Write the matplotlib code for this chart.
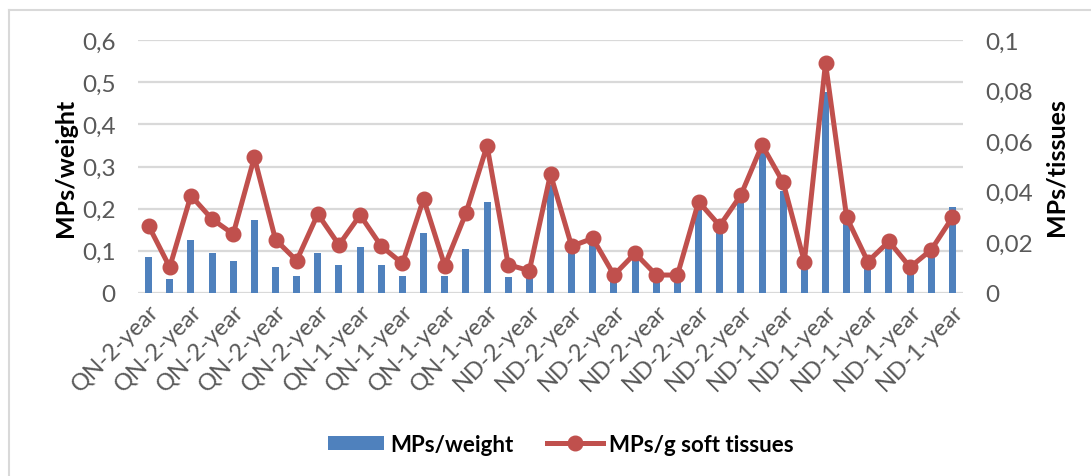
import matplotlib
matplotlib.use("Agg")
import matplotlib.pyplot as plt
from matplotlib.lines import Line2D
from matplotlib.patches import Patch

categories = (["QN-2-year"] * 10 + ["QN-1-year"] * 8 +
              ["ND-2-year"] * 12 + ["ND-1-year"] * 9)

mps_weight = [0.086, 0.033, 0.126, 0.095, 0.077, 0.173, 0.061, 0.040, 0.095, 0.067,
              0.108, 0.067, 0.040, 0.142, 0.040, 0.104, 0.216, 0.037, 0.050, 0.255,
              0.108, 0.118, 0.033, 0.080, 0.033, 0.033, 0.199, 0.154, 0.219, 0.341,
              0.242, 0.057, 0.476, 0.168, 0.080, 0.120, 0.057, 0.097, 0.204]

mps_tissue = [0.0266, 0.0102, 0.0385, 0.0292, 0.0233, 0.0536, 0.0211, 0.0128, 0.0312, 0.0190,
              0.0308, 0.0185, 0.0117, 0.0372, 0.0108, 0.0315, 0.0582, 0.0112, 0.0088, 0.0470,
              0.0185, 0.0216, 0.0071, 0.0157, 0.0071, 0.0071, 0.0361, 0.0266, 0.0387, 0.0585,
              0.0437, 0.0124, 0.0909, 0.0299, 0.0124, 0.0204, 0.0102, 0.0171, 0.0299]

left_ticks = [0, 0.1, 0.2, 0.3, 0.4, 0.5, 0.6]
left_labels = ["0", "0,1", "0,2", "0,3", "0,4", "0,5", "0,6"]
right_ticks = [0, 0.02, 0.04, 0.06, 0.08, 0.1]
right_labels = ["0", "0,02", "0,04", "0,06", "0,08", "0,1"]

BLUE = "#4F81BD"
RED = "#C0504D"
GRID = "#D9D9D9"
TXT = "#595959"
FONT = "Lato"

plt.rcParams["font.family"] = [FONT, "DejaVu Sans"]

fig = plt.figure(figsize=(10.91, 4.77), dpi=100)
ax = fig.add_axes([138 / 1091, 1 - 294 / 477, (963 - 138) / 1091, (294 - 41) / 477])
ax2 = ax.twinx()

x = list(range(len(categories)))
ax.bar(x, mps_weight, width=0.33, color=BLUE, zorder=2)
ax2.plot(x, mps_tissue, color=RED, lw=3.6, marker="o", markersize=10.5, zorder=3)

ax.set_xlim(-0.5, len(categories) - 0.5)
ax.set_ylim(0, 0.6)
ax2.set_ylim(0, 0.1)
ax.set_yticks(left_ticks)
ax.set_yticklabels(left_labels)
ax2.set_yticks(right_ticks)
ax2.set_yticklabels(right_labels)
ax.set_xticks(x[::2])
ax.set_xticklabels(categories[::2], rotation=45, ha="right", va="top",
                   rotation_mode="anchor")

ax.grid(axis="y", color=GRID, lw=1.6, zorder=0)
ax.set_axisbelow(True)
for a in (ax, ax2):
    for s in ("top", "right", "left", "bottom"):
        a.spines[s].set_visible(False)
    a.tick_params(length=0, labelsize=17.5, labelcolor=TXT)
ax.axhline(0, color=GRID, lw=1.8, zorder=1)
ax.tick_params(axis="y", pad=16)
ax.tick_params(axis="x", pad=5, labelsize=17)
ax2.tick_params(axis="y", pad=16)

ax.set_ylabel("MPs/weight", fontsize=18, fontweight="bold", color="black", labelpad=4)
ax2.set_ylabel("MPs/tissues", fontsize=18, fontweight="bold", color="black", labelpad=8)

handles = [Patch(facecolor=BLUE, edgecolor="none"),
           Line2D([0], [0], color=RED, lw=3.6, marker="o", markersize=10.5)]
leg = fig.legend(handles, ["MPs/weight", "MPs/g soft tissues"], loc="center",
                 bbox_to_anchor=(561 / 1091, 1 - 445 / 477), ncol=2, frameon=False,
                 prop={"family": FONT, "weight": "bold", "size": 16},
                 handlelength=2.5, handleheight=0.6, columnspacing=1.5,
                 handletextpad=0.3)

# outer frame
fig.add_artist(Line2D([9 / 1091, 9 / 1091], [0, 1 - 11 / 477], transform=fig.transFigure,
                      color=GRID, lw=1.5))
fig.add_artist(Line2D([9 / 1091, 1], [1 - 11 / 477, 1 - 11 / 477], transform=fig.transFigure,
                      color=GRID, lw=1.5))

fig.savefig("out.png", dpi=100)
